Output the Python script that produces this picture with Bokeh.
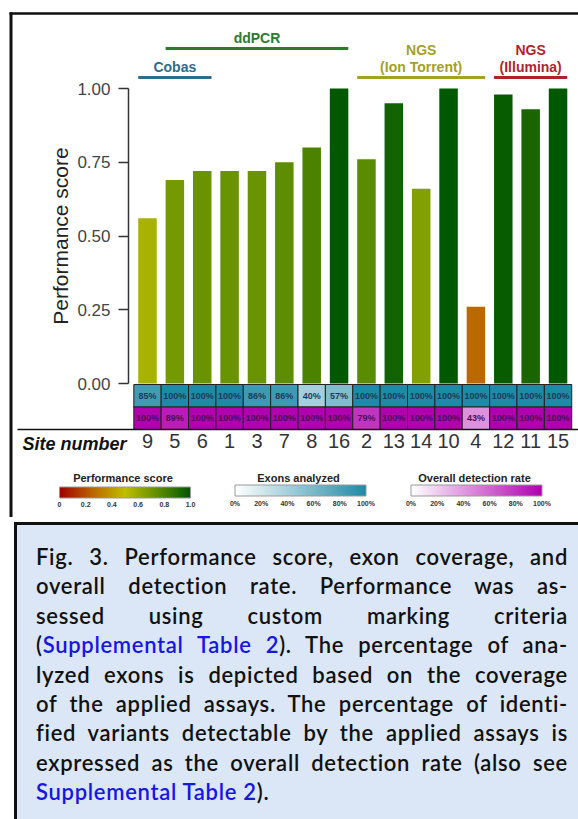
import numpy as np
from bokeh.plotting import figure
from bokeh.models import (Range1d, LinearAxis, FixedTicker, NumeralTickFormatter, ColumnDataSource,
                          LinearColorMapper, ColorBar, Label, Div)
from bokeh.layouts import column
from bokeh.transform import transform
from bokeh.core.properties import value
from bokeh.embed import file_html
from bokeh.resources import INLINE

# ---------------- data ----------------
sites = ["9", "5", "6", "1", "3", "7", "8", "16", "2", "13", "14", "10", "4", "12", "11", "15"]
scores = [0.56, 0.69, 0.72, 0.72, 0.72, 0.75, 0.80, 1.00, 0.76, 0.95, 0.66, 1.00, 0.26, 0.98, 0.93, 1.00]
exons = [85, 100, 100, 100, 86, 86, 40, 57, 100, 100, 100, 100, 100, 100, 100, 100]
detection = [100, 89, 100, 100, 100, 100, 100, 100, 79, 100, 100, 100, 43, 100, 100, 100]

group_names = ["Cobas", "ddPCR", "NGS\n(Ion Torrent)", "NGS\n(Illumina)"]
group_first = ["9", "5", "2", "12"]
group_last = ["6", "16", "4", "15"]
group_level = [0, 1, 0, 0]
group_colors = ["#2c6d8c", "#2e7a2e", "#a3a124", "#b21f2d"]

y_ticks = [0, 0.25, 0.5, 0.75, 1.0]
score_bar_ticks = [0, 0.2, 0.4, 0.6, 0.8, 1.0]
score_bar_labels = ["0", "0.2", "0.4", "0.6", "0.8", "1.0"]
pct_ticks = [0, 20, 40, 60, 80, 100]
pct_labels = ["0%", "20%", "40%", "60%", "80%", "100%"]
legend_titles = ["Performance score", "Exons analyzed", "Overall detection rate"]

caption_lines = [
    "Fig. 3. Performance score, exon coverage, and",
    "overall detection rate. Performance was as-",
    "sessed using custom marking criteria",
    "(<L>Supplemental Table 2</L>). The percentage of ana-",
    "lyzed exons is depicted based on the coverage",
    "of the applied assays. The percentage of identi-",
    "fied variants detectable by the applied assays is",
    "expressed as the overall detection rate (also see",
    "<L>Supplemental Table 2</L>).",
]

# ---------------- styles / layout ----------------
FNAME = "Liberation Sans"
FONT = value(FNAME)
W = 578
FIG_H = 517
DIV_H = 298
PX = 27.37      # pixels per site column
X0 = 133.3      # px of first column's left edge
PY = 295.0      # pixels per score unit
Y0 = 383.0      # px of score 0


def dx(px):
    return (px - X0) / PX


def dy(py):
    return (Y0 - py) / PY


def ramp(stops, n=256):
    out = []
    for i in range(n):
        t = i / (n - 1)
        for (p0, c0), (p1, c1) in zip(stops[:-1], stops[1:]):
            if p0 <= t <= p1:
                f = (t - p0) / (p1 - p0) if p1 > p0 else 0
                rgb = [int(round(a + (b - a) * f)) for a, b in zip(c0, c1)]
                out.append("#%02x%02x%02x" % tuple(rgb))
                break
    return out


score_pal = ramp([(0.0, (160, 0, 0)), (0.25, (186, 102, 0)), (0.5, (192, 190, 0)),
                  (0.75, (94, 142, 0)), (1.0, (0, 88, 0))])
exon_pal = ramp([(0.0, (255, 255, 255)), (1.0, (31, 138, 166))])
det_pal = ramp([(0.0, (255, 255, 255)), (1.0, (176, 0, 176))])

score_mapper = LinearColorMapper(palette=score_pal, low=0, high=1)
exon_mapper = LinearColorMapper(palette=exon_pal, low=0, high=100)
det_mapper = LinearColorMapper(palette=det_pal, low=0, high=100)

n = len(sites)
pos = np.arange(n) + 0.5
src = ColumnDataSource(dict(
    x=pos, site=sites, score=scores, exon=exons, det=detection,
    exon_lbl=[f"{v}%" for v in exons], det_lbl=[f"{v}%" for v in detection]))

p = figure(width=W, height=FIG_H, x_range=Range1d(dx(0), dx(W)), y_range=Range1d(dy(FIG_H), dy(0)),
           output_backend="svg", toolbar_location=None, min_border=0,
           x_axis_type=None, y_axis_type=None)
p.outline_line_color = None
p.background_fill_color = "white"

# frame borders (top and left edges of the figure box)
p.segment(x0=[dx(9), dx(10.5)], y0=[dy(13), dy(11.8)], x1=[dx(W), dx(10.5)], y1=[dy(13), dy(FIG_H)],
          line_color="#111111", line_width=[2.5, 3])

# bars
p.vbar(x="x", top="score", bottom=0, width=0.676, source=src,
       fill_color=transform("score", score_mapper), line_color=None)

# heat rows
ROW_H = 22.5
row1_c = 384 + ROW_H / 2
row2_c = 384 + ROW_H * 1.5
p.rect(x="x", y=dy(row1_c), width=1, height=ROW_H / PY, source=src,
       fill_color=transform("exon", exon_mapper), line_color="#222222", line_width=1)
p.rect(x="x", y=dy(row2_c), width=1, height=ROW_H / PY, source=src,
       fill_color=transform("det", det_mapper), line_color="#222222", line_width=1)
p.text(x="x", y=dy(row1_c), text="exon_lbl", source=src, text_align="center", text_baseline="middle",
       text_font=FONT, text_font_size="9px", text_font_style="bold", text_color="#1b3b58")
p.text(x="x", y=dy(row2_c), text="det_lbl", source=src, text_align="center", text_baseline="middle",
       text_font=FONT, text_font_size="9px", text_font_style="bold", text_color="#4d0f55")

# y axis
ya = LinearAxis(fixed_location=dx(128), ticker=FixedTicker(ticks=y_ticks),
                formatter=NumeralTickFormatter(format="0.00"), bounds=(0, 1))
ya.axis_line_color = "#333333"
ya.axis_line_width = 1.5
ya.major_tick_line_color = "#333333"
ya.major_tick_line_width = 1.5
ya.major_tick_out = 10
ya.major_tick_in = 0
ya.minor_tick_line_color = None
ya.major_label_standoff = 8
ya.major_label_text_font = FNAME
ya.major_label_text_font_size = "17px"
ya.major_label_text_color = "#444444"
p.add_layout(ya, "left")

# x axis (site numbers)
xa = LinearAxis(fixed_location=dy(429), ticker=FixedTicker(ticks=list(pos)),
                major_label_overrides={float(x): s for x, s in zip(pos, sites)},
                bounds=(dx(17), dx(W)))
xa.axis_line_color = "#111111"
xa.axis_line_width = 1.5
xa.major_tick_line_color = None
xa.minor_tick_line_color = None
xa.major_tick_out = 0
xa.major_tick_in = 0
xa.major_label_standoff = 4
xa.major_label_text_font = FNAME
xa.major_label_text_font_size = "20px"
xa.major_label_text_color = "#333333"
p.add_layout(xa, "below")

p.add_layout(Label(x=dx(22), y=dy(443), text="Site number", text_font=FNAME, text_font_size="18px",
                   text_font_style="bold italic", text_color="#111111", text_baseline="middle"))
p.add_layout(Label(x=dx(60), y=0.5, text="Performance score", angle=np.pi / 2, text_font=FNAME,
                   text_font_size="21px", text_color="#222222", text_align="center",
                   text_baseline="middle"))

# group headers
idx = {s: i for i, s in enumerate(sites)}
hx0, hx1, hy, hc = [], [], [], []
tx, ty, tt, tc = [], [], [], []
for name, a, b, lev, col in zip(group_names, group_first, group_last, group_level, group_colors):
    x0 = pos[idx[a]] - 0.338
    x1 = pos[idx[b]] + 0.338
    line_py = 77 if lev == 0 else 48
    hx0.append(x0); hx1.append(x1); hy.append(dy(line_py)); hc.append(col)
    parts = name.split("\n")[::-1]
    for k, part in enumerate(parts):
        tx.append((x0 + x1) / 2); ty.append(dy(line_py - 11 - 17 * k)); tt.append(part); tc.append(col)
p.segment(x0=hx0, y0=hy, x1=hx1, y1=hy, line_color=hc, line_width=3)
p.text(x=tx, y=ty, text=tt, text_color=tc, text_align="center", text_baseline="middle",
       text_font=FONT, text_font_size="14px", text_font_style="bold")

# color bars
bar_left = [59, 234.5, 410.5]
mappers = [score_mapper, exon_mapper, det_mapper]
tick_sets = [score_bar_ticks, pct_ticks, pct_ticks]
label_sets = [score_bar_labels, pct_labels, pct_labels]
for left, mapper, ticks, labels, title in zip(bar_left, mappers, tick_sets, label_sets, legend_titles):
    cb = ColorBar(color_mapper=mapper, orientation="horizontal", width=131, height=11,
                  location=(left, FIG_H - 509.5), ticker=FixedTicker(ticks=ticks),
                  major_label_overrides={float(t): l for t, l in zip(ticks, labels)},
                  padding=0, background_fill_alpha=0, border_line_color=None,
                  bar_line_color="#999999", major_tick_line_color=None, minor_tick_line_color=None,
                  major_tick_out=0, label_standoff=4,
                  major_label_text_font=FNAME, major_label_text_font_size="7px",
                  major_label_text_font_style="bold", major_label_text_color="#333333")
    p.add_layout(cb, "center")
    p.add_layout(Label(x=dx(left + 65.5 - 2), y=dy(477.5), text=title, text_font=FNAME,
                       text_font_size="11px", text_font_style="bold", text_color="#222222",
                       text_align="center", text_baseline="middle"))

# caption
blue = "#1616e6"
rows = []
for i, line in enumerate(caption_lines):
    line = line.replace("<L>", f'<span style="color:{blue}">').replace("</L>", "</span>")
    last = i == len(caption_lines) - 1
    align = "left" if last else "justify"
    rows.append(f'<div style="text-align:{align};text-align-last:{align};white-space:nowrap;">{line}</div>')
html = (f'<div style="margin-left:9px;width:569px;height:{DIV_H}px;box-sizing:border-box;'
        f'background:#dbe6f6;border-left:3px solid #111;border-top:3px solid #111;'
        f'padding:17px 15px 0 19px;font-family:Lato;font-weight:600;font-size:22px;'
        f'letter-spacing:0.7px;line-height:29.4px;color:#111;">' + "".join(rows) + "</div>")
div = Div(text=html, width=W, height=DIV_H)

layout = column(p, div, spacing=0)
open("out.html", "w").write(file_html(layout, INLINE))
